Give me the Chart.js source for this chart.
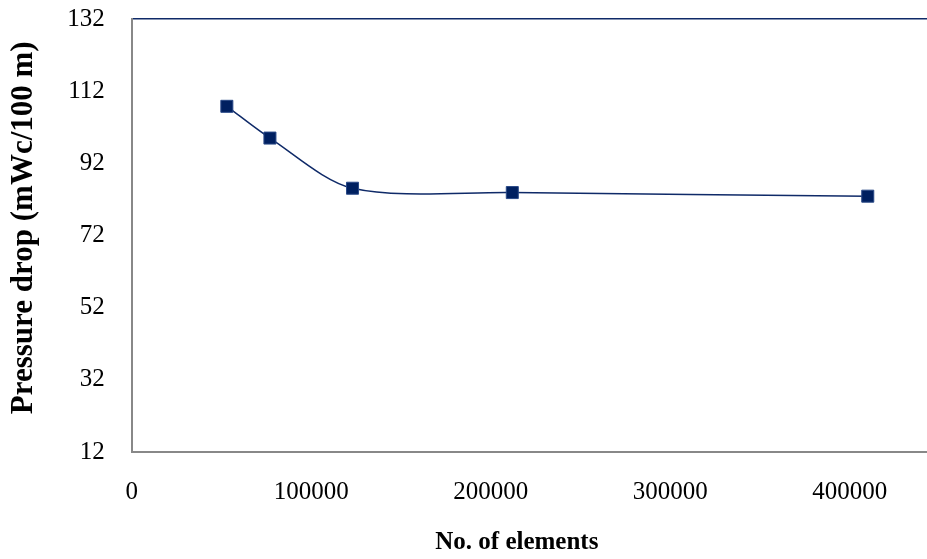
<!DOCTYPE html>
<html>
<head>
<meta charset="utf-8">
<script src="https://cdn.jsdelivr.net/npm/chart.js@4"></script>
<style>
  html, body { margin: 0; padding: 0; background: #fff; }
  #wrap { width: 927px; height: 559px; }
</style>
</head>
<body>
<div id="wrap"><canvas id="chart"></canvas></div>
<script>
// values
const elements = [53000, 77000, 123000, 212000, 410000];
const pressureDrop = [107.8, 99.0, 85.1, 83.9, 82.9];
const yTicks = [12, 32, 52, 72, 92, 112, 132];
const xTicks = [0, 100000, 200000, 300000, 400000];

const navy = '#0f2a68';
const serif = "'Liberation Serif', 'Times New Roman', serif";

// drop the label-overflow padding so the plot reaches the canvas edges like the original
function noOverflow(scale) {
    scale.paddingLeft = 0;
    scale.paddingRight = 0;
    scale.paddingTop = 0;
    scale.paddingBottom = 0;
}

const ctx = document.getElementById('chart').getContext('2d');
new Chart(ctx, {
    type: 'line',
    data: {
        datasets: [{
            data: elements.map((x, i) => ({ x: x, y: pressureDrop[i] })),
            borderColor: navy,
            borderWidth: 1.5,
            tension: 0.3,
            pointStyle: 'rect',
            pointRadius: 8.5,
            pointBackgroundColor: '#002060',
            pointBorderColor: '#2a4a88',
            pointBorderWidth: 1
        }]
    },
    options: {
        responsive: true,
        maintainAspectRatio: false,
        animation: false,
        layout: { autoPadding: false, padding: { left: 0, top: 19, right: 0, bottom: 0 } },
        plugins: {
            legend: { display: false },
            tooltip: { enabled: false }
        },
        scales: {
            x: {
                type: 'linear',
                min: 0,
                max: 443000,
                afterBuildTicks: scale => {
                    scale.ticks = xTicks.map(v => ({ value: v }));
                },
                afterFit: noOverflow,
                grid: { display: false, drawTicks: false },
                border: { display: true, color: '#888888', width: 2 },
                ticks: {
                    color: '#000',
                    padding: 25,
                    maxRotation: 0,
                    font: { family: serif, size: 25 },
                    callback: v => String(v)
                },
                title: {
                    display: true,
                    text: 'No. of elements    ',
                    color: '#000',
                    font: { family: serif, size: 25, weight: 'bold' },
                    padding: { top: -4, bottom: 1 }
                }
            },
            y: {
                min: 12,
                max: 132,
                afterBuildTicks: scale => {
                    scale.ticks = yTicks.map(v => ({ value: v }));
                },
                afterFit: noOverflow,
                grid: {
                    drawTicks: false,
                    lineWidth: 1.5,
                    color: c => (c.tick && c.tick.value === 132) ? navy : 'transparent'
                },
                border: { display: true, color: '#888888', width: 2 },
                ticks: {
                    color: '#000',
                    padding: 27,
                    font: { family: serif, size: 25 }
                },
                title: {
                    display: true,
                    text: '  Pressure drop (mWc/100 m)',
                    color: '#000',
                    font: { family: serif, size: 31, weight: 'bold' },
                    padding: { top: 5, bottom: -2 }
                }
            }
        }
    }
});
</script>
</body>
</html>
